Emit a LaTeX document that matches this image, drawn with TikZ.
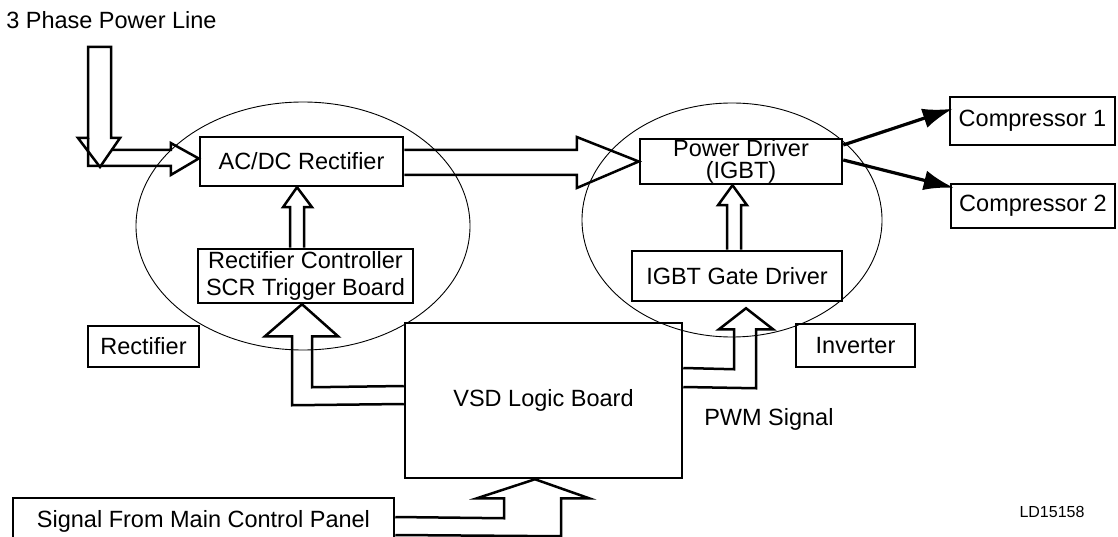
\documentclass[tikz,border=0pt]{standalone}
\usepackage{fontspec}
\setmainfont{Liberation Sans}
\usetikzlibrary{calc,arrows.meta}
\tikzset{
every picture/.style={
line width=2.5pt
}}

\begin{document}
\begin{tikzpicture}[x=1pt,y=-1pt,
block/.style = {rectangle, draw=black, line width=2.5pt, inner sep=0pt, align=center, font=\fontsize{23.5}{22}\selectfont},
label/.style = {inner sep=0pt, font=\fontsize{23.5}{22}\selectfont},
hollow/.style = {draw=black, line width=2.5pt, line join=miter},
zone/.style = {draw=black, line width=0.9pt}]

\useasboundingbox (0,0) rectangle (1118,537);

\draw[zone] (303,226) ellipse [x radius=167, y radius=124];
\draw[zone] (732,220) ellipse [x radius=150, y radius=117];

\node[block, minimum width=203pt, minimum height=49pt] (acdc) at (301.5,161.5) {AC/DC Rectifier};
\node[block, minimum width=202pt, minimum height=45pt] (pdrv) at (741,161.5) {Power Driver\\(IGBT)};
\node[block, minimum width=165pt, minimum height=48pt] (compa) at (1032.5,121) {Compressor 1};
\node[block, minimum width=164pt, minimum height=44pt] (compb) at (1033,206) {Compressor 2};
\node[block, minimum width=215pt, minimum height=54pt, font=\fontsize{23.5}{27.5}\selectfont] (rectctl) at (305.5,276) {Rectifier Controller\\SCR Trigger Board};
\node[block, minimum width=210pt, minimum height=50pt] (gatedrv) at (737,276) {IGBT Gate Driver};
\node[block, minimum width=277pt, minimum height=155pt] (logic) at (543.5,400.5) {VSD Logic Board};
\node[block, minimum width=111pt, minimum height=41pt] (rectlbl) at (143.5,346.5) {Rectifier};
\node[block, minimum width=119pt, minimum height=43pt] (invlbl) at (855.5,345.5) {Inverter};
\node[block, minimum width=381pt, minimum height=47pt] (signal) at (203.5,521.5) {Signal From Main Control Panel};

\node[label, anchor=base west] (phase) at (5,28.5) {3 Phase Power Line};
\node[label, anchor=base west] (pwm) at (703,425) {PWM Signal};
\node[label, font=\fontsize{16}{18}\selectfont] (ldno) at (1052,512) {LD15158};

\coordinate (pline) at (99.5,47);

\draw[hollow] ($(pline)+(-11.5,0)$) -- ($(pline)+(11.5,0)$) -- ++(0,91) -- ++(9,0) -- ($(pline)+(0.5,120)$) -- ($(pline)+(-21.5,91)$) -- ++(10,0) -- cycle;
\draw[hollow] ($(pline)+(-11.5,91)$) -- ($(pline)+(-11.5,119)$) -- ($(acdc.west)+(-28,4.5)$) -- ++(0,9) -- ($(acdc.west)+(0,-3)$) -- ($(acdc.west)+(-28,-18.5)$) -- ++(0,7) -- ($(pline)+(12.2,103)$);

\draw[hollow] ($(acdc.east)+(0,-11.5)$) -- ($(pdrv.west)+(-62,-11.5)$) -- ++(0,-13) -- (pdrv.west) -- ($(pdrv.west)+(-62,26.5)$) -- ++(0,-13) -- ($(acdc.east)+(0,13.5)$);

\draw[hollow] ($(rectctl.north)+(-15.5,0)$) -- ($(acdc.south)+(-11.5,20)$) -- ++(-7,0) -- ($(acdc.south)+(-4.5,0)$) -- ($(acdc.south)+(10.5,20)$) -- ++(-8,0) -- ($(rectctl.north)+(-1.5,0)$);

\draw[hollow] ($(gatedrv.north)+(-10,0)$) -- ($(pdrv.south)+(-14,20)$) -- ++(-9,0) -- ($(pdrv.south)+(-8.5,0)$) -- ($(pdrv.south)+(6,20)$) -- ++(-6,0) -- ($(gatedrv.north)+(4,0)$);

\draw[hollow] ($(logic.west)+(0,-14.5)$) -- ($(rectctl.south)+(6.5,83)$) -- ($(rectctl.south)+(6.5,32)$) -- ++(26,0) -- ($(rectctl.south)+(-3.5,0)$) -- ($(rectctl.south)+(-40.5,32)$) -- ++(27,0) -- ($(rectctl.south)+(-13.5,101)$) -- ($(logic.west)+(0,3.5)$);

\draw[hollow] ($(logic.east)+(0,-32.5)$) -- ($(gatedrv.south)+(-3,67)$) -- ($(gatedrv.south)+(-3,27)$) -- ++(-15,0) -- ($(gatedrv.south)+(9,6)$) -- ($(gatedrv.south)+(36,27)$) -- ++(-17,0) -- ($(gatedrv.south)+(19,86)$) -- ($(logic.east)+(0,-13.5)$);

\draw[hollow] ($(signal.east)+(0,-4.5)$) -- ($(logic.south)+(-39.5,39)$) -- ($(logic.south)+(-39.5,19)$) -- ++(-27,0) -- ($(logic.south)+(-8.5,0)$) -- ($(logic.south)+(45.5,19)$) -- ++(-28,0) -- ($(logic.south)+(17.5,57)$) -- ($(signal.east)+(0,13.5)$);

\draw[line width=3.2pt, -{Latex[length=30pt,width=20pt]}] ($(pdrv.east)+(0,-16.5)$) -- ($(compa.north west)+(4,13)$);
\draw[line width=3.2pt, -{Latex[length=30pt,width=20pt]}] ($(pdrv.east)+(0,-1.5)$) -- ($(compb.north west)+(4,5)$);
\end{tikzpicture}
\end{document}
